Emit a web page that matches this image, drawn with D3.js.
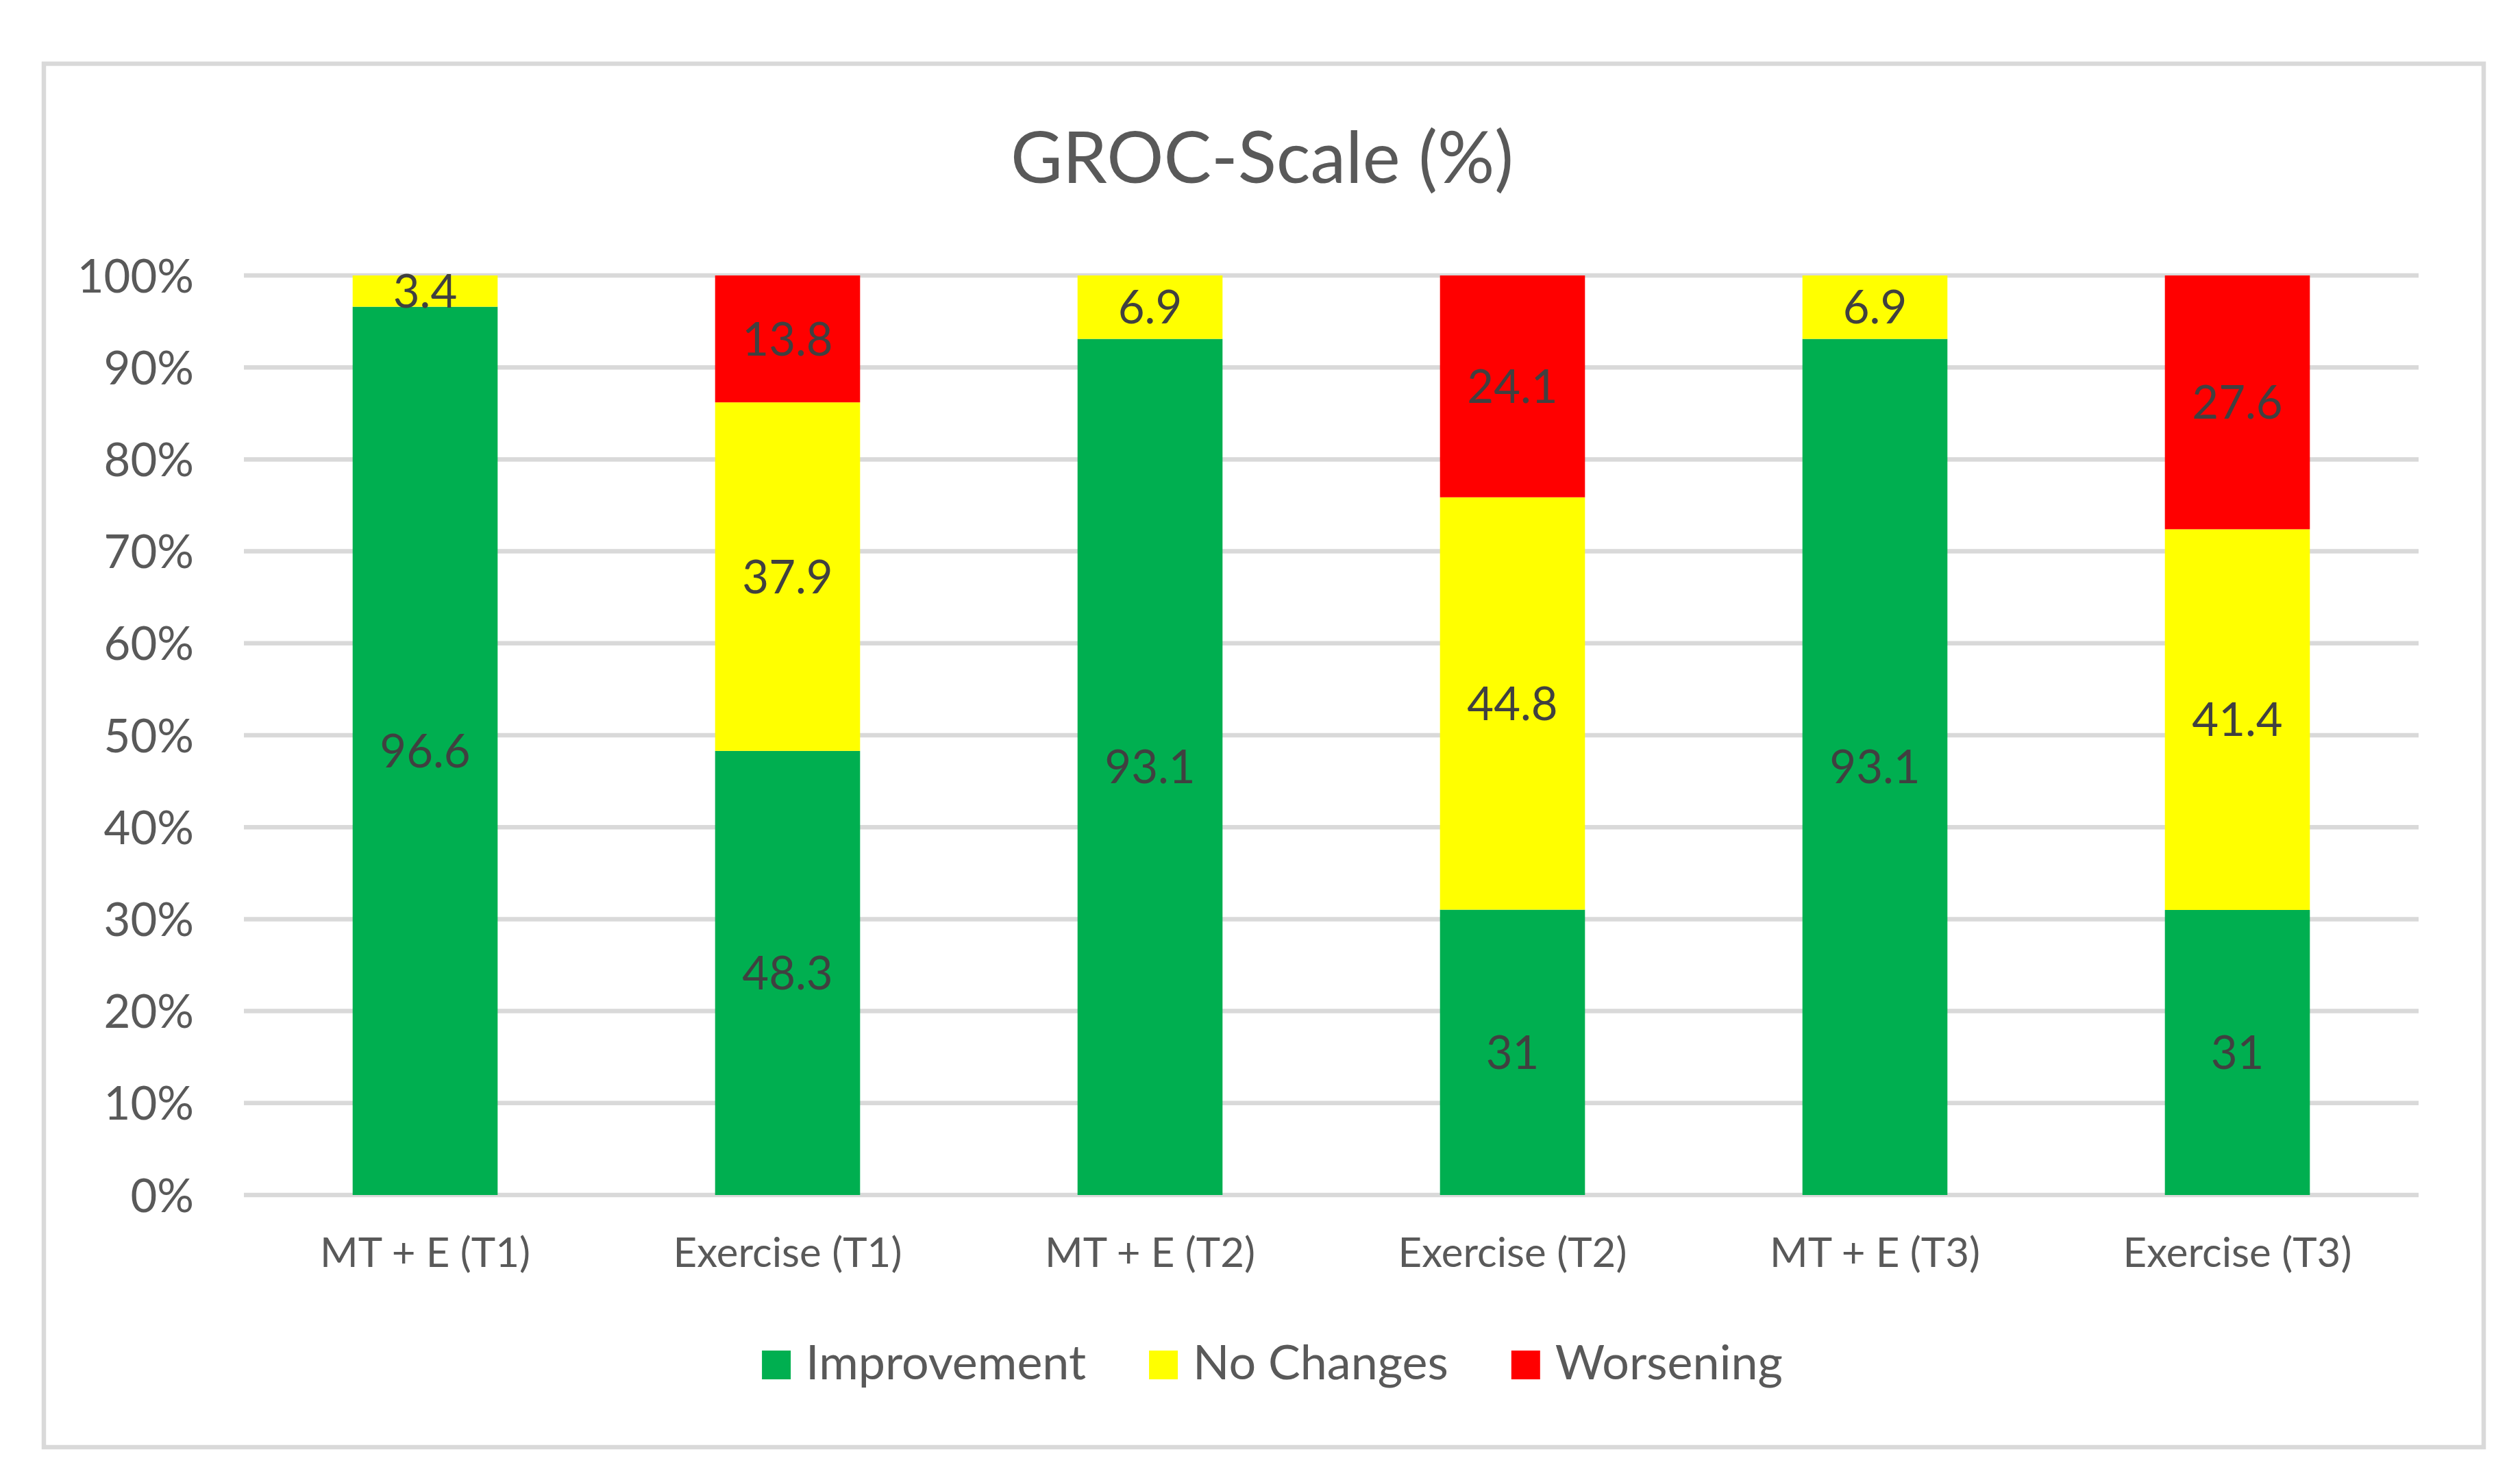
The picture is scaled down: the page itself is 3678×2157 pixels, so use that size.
<!DOCTYPE html>
<html>
<head>
<meta charset="utf-8">
<script src="https://cdn.jsdelivr.net/npm/d3@7"></script>
<style>
  html, body { margin: 0; padding: 0; background: #ffffff; }
  svg { display: block; }
  text { font-family: Lato, "Noto Sans", sans-serif; }
</style>
</head>
<body>
<svg id="chart" width="3678" height="2157"></svg>
<script>
// ---- Data ----
const categories = ["MT + E (T1)", "Exercise (T1)", "MT + E (T2)", "Exercise (T2)", "MT + E (T3)", "Exercise (T3)"];
const seriesNames = ["Improvement", "No Changes", "Worsening"];
const improvement = [96.6, 48.3, 93.1, 31, 93.1, 31];
const noChanges   = [3.4, 37.9, 6.9, 44.8, 6.9, 41.4];
const worsening   = [0, 13.8, 0, 24.1, 0, 27.6];
const yTicks = [0, 10, 20, 30, 40, 50, 60, 70, 80, 90, 100];
const titleText = "GROC-Scale (%)";
const colors = ["#00AF50", "#FFFF00", "#FF0000"];

// ---- Layout ----
const W = 3678, H = 2157;
const plot = { left: 356, right: 3530, top: 402, bottom: 1744 };
const svg = d3.select("#chart");

// chart border
svg.append("rect")
  .attr("x", 64).attr("y", 93)
  .attr("width", 3625 - 64).attr("height", 2112 - 93)
  .attr("fill", "#ffffff")
  .attr("stroke", "#d9d9d9").attr("stroke-width", 6.5);

// title
svg.append("text")
  .attr("x", 1842).attr("y", 267)
  .attr("text-anchor", "middle")
  .attr("font-size", 104)
  .attr("fill", "#595959")
  .text(titleText);

// scales
const x = d3.scaleBand().domain(categories).range([plot.left, plot.right]).paddingInner(0.6).paddingOuter(0.3);
const y = d3.scaleLinear().domain([0, 100]).range([plot.bottom, plot.top]);

// gridlines
svg.append("g").selectAll("line").data(yTicks).join("line")
  .attr("x1", plot.left).attr("x2", plot.right)
  .attr("y1", d => y(d)).attr("y2", d => y(d))
  .attr("stroke", "#d9d9d9").attr("stroke-width", 6.5);

// y axis labels
const yAxis = d3.axisLeft(y).tickValues(yTicks).tickFormat(d => d + "%").tickSize(0).tickPadding(73);
const yg = svg.append("g").attr("transform", `translate(${plot.left},0)`).call(yAxis);
yg.select(".domain").remove();
yg.selectAll("text")
  .attr("font-size", 67)
  .attr("font-family", "Lato, 'Noto Sans', sans-serif")
  .attr("fill", "#595959")
  .attr("dy", "0.36em");

// x axis labels
const xAxis = d3.axisBottom(x).tickSize(0).tickPadding(0);
const xg = svg.append("g").attr("transform", `translate(0,${plot.bottom})`).call(xAxis);
xg.select(".domain").remove();
xg.selectAll("text")
  .attr("font-size", 60)
  .attr("font-family", "Lato, 'Noto Sans', sans-serif")
  .attr("fill", "#595959")
  .attr("y", 105).attr("dy", 0);

// stack (100% stacked)
const rows = categories.map((c, i) => {
  const total = improvement[i] + noChanges[i] + worsening[i];
  return {
    cat: c,
    raw: [improvement[i], noChanges[i], worsening[i]],
    "Improvement": improvement[i] / total * 100,
    "No Changes": noChanges[i] / total * 100,
    "Worsening": worsening[i] / total * 100
  };
});
const stacked = d3.stack().keys(seriesNames)(rows);

const layers = svg.append("g").selectAll("g").data(stacked).join("g")
  .attr("fill", (d, i) => colors[i]);
layers.selectAll("rect").data(d => d).join("rect")
  .attr("x", d => x(d.data.cat))
  .attr("width", x.bandwidth())
  .attr("y", d => y(d[1]))
  .attr("height", d => y(d[0]) - y(d[1]));

// data labels
stacked.forEach((layer, si) => {
  svg.append("g").selectAll("text").data(layer.filter(d => d.data.raw[si] > 0)).join("text")
    .attr("x", d => x(d.data.cat) + x.bandwidth() / 2)
    .attr("y", d => (y(d[0]) + y(d[1])) / 2)
    .attr("dy", "0.36em")
    .attr("text-anchor", "middle")
    .attr("font-size", 67)
    .attr("fill", "#404040")
    .text(d => d.data.raw[si]);
});

// legend
const legend = svg.append("g");
const items = [];
seriesNames.forEach((name, i) => {
  const g = legend.append("g");
  g.append("rect").attr("x", 0).attr("y", -42).attr("width", 42).attr("height", 42).attr("fill", colors[i]);
  const t = g.append("text").attr("x", 64).attr("y", 0).attr("font-size", 70).attr("fill", "#595959").text(name);
  const w = 64 + t.node().getComputedTextLength();
  items.push({ g, w });
});
const gap = 92;
const totalW = d3.sum(items, d => d.w) + gap * (items.length - 1);
let start = 1857 - totalW / 2;
items.forEach(it => {
  it.g.attr("transform", `translate(${start},2013)`);
  start += it.w + gap;
});
</script>
</body>
</html>
